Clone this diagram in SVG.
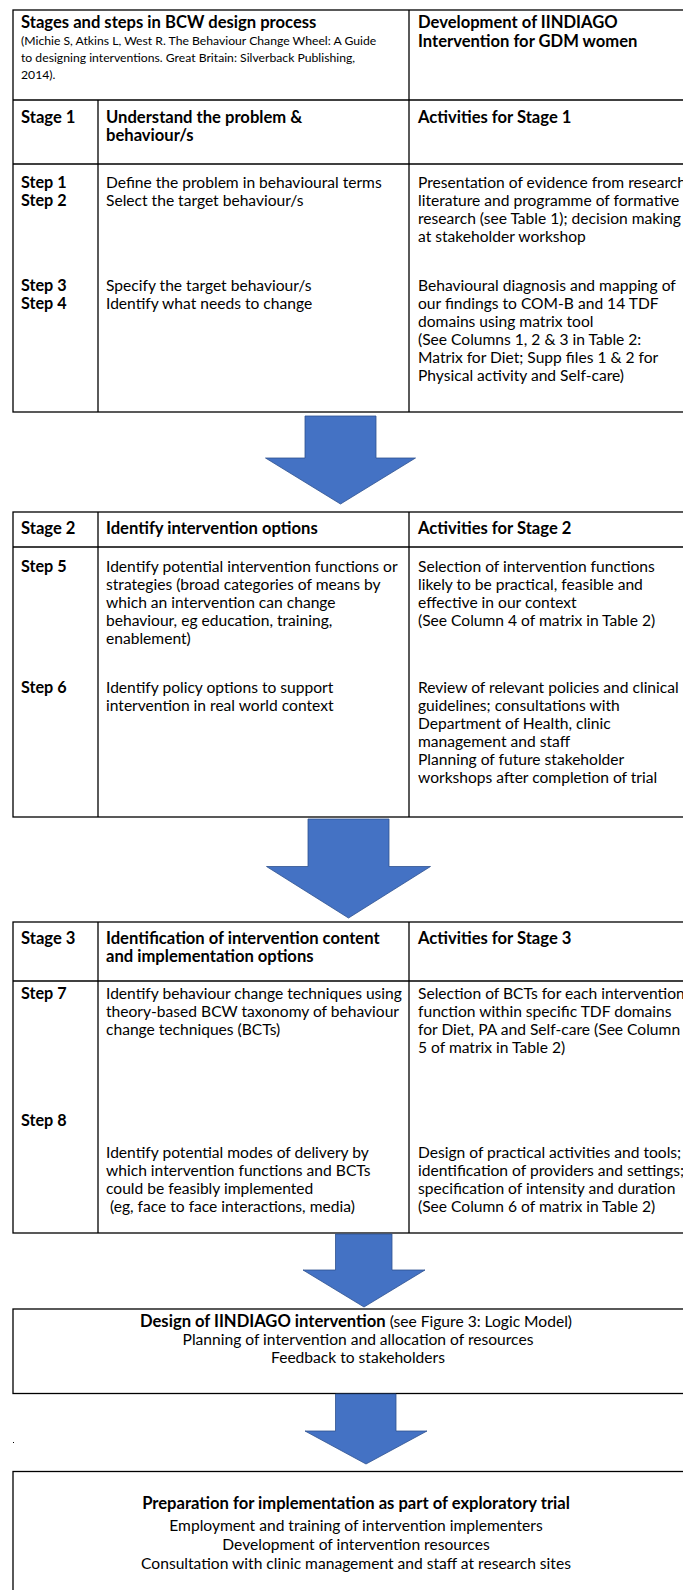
<svg xmlns="http://www.w3.org/2000/svg" width="683" height="1590" viewBox="0 0 683 1590">
<style>
.ln{stroke:#000;stroke-width:1.3;fill:none}
.t{font-family:Lato,"Liberation Sans",sans-serif;font-size:15.6px;fill:#000}
.b{font-family:Lato,"Liberation Sans",sans-serif;font-size:16.6px;font-weight:bold;fill:#000}
.st{font-family:Lato,"Liberation Sans",sans-serif;font-size:16.2px;font-weight:bold;fill:#000}
.s{font-family:Lato,"Liberation Sans",sans-serif;font-size:12.2px;fill:#000}
.c{text-anchor:middle}
.ar{fill:#4472C4;stroke:#2F528F;stroke-width:0.8}
</style>
<rect width="683" height="1590" fill="#fff"/>

<g id="table1">
<rect class="ln" x="13" y="10" width="700" height="402"/>
<line class="ln" x1="409" y1="10" x2="409" y2="412"/>
<line class="ln" x1="13" y1="100" x2="700" y2="100"/>
<line class="ln" x1="98" y1="100" x2="98" y2="412"/>
<line class="ln" x1="13" y1="164" x2="700" y2="164"/>
<text class="b" x="21" y="28">Stages and steps in BCW design process</text>
<text class="s" x="21" y="45">(Michie S, Atkins L, West R. The Behaviour Change Wheel: A Guide</text>
<text class="s" x="21" y="62">to designing interventions. Great Britain: Silverback Publishing,</text>
<text class="s" x="21" y="78.5">2014).</text>
<text class="b" x="418" y="28">Development of IINDIAGO</text>
<text class="b" x="418" y="46.5">Intervention for GDM women</text>
<text class="b" x="21" y="122.5">Stage 1</text>
<text class="b" x="106" y="122.5">Understand the problem &amp;</text>
<text class="b" x="106" y="140.5">behaviour/s</text>
<text class="b" x="418" y="122.5">Activities for Stage 1</text>
<text class="st" x="21" y="188">Step 1</text>
<text class="st" x="21" y="206">Step 2</text>
<text class="t" x="106" y="188">Define the problem in behavioural terms</text>
<text class="t" x="106" y="206">Select the target behaviour/s</text>
<text class="t" x="418" y="188">Presentation of evidence from research</text>
<text class="t" x="418" y="206">literature and programme of formative</text>
<text class="t" x="418" y="224">research (see Table 1); decision making</text>
<text class="t" x="418" y="242">at stakeholder workshop</text>
<text class="st" x="21" y="290.5">Step 3</text>
<text class="st" x="21" y="308.5">Step 4</text>
<text class="t" x="106" y="290.5">Specify the target behaviour/s</text>
<text class="t" x="106" y="308.5">Identify what needs to change</text>
<text class="t" x="418" y="290.5">Behavioural diagnosis and mapping of</text>
<text class="t" x="418" y="308.5">our findings to COM-B and 14 TDF</text>
<text class="t" x="418" y="326.5">domains using matrix tool</text>
<text class="t" x="418" y="344.5">(See Columns 1, 2 &amp; 3 in Table 2:</text>
<text class="t" x="418" y="362.5">Matrix for Diet; Supp files 1 &amp; 2 for</text>
<text class="t" x="418" y="380.5">Physical activity and Self-care)</text>
</g>

<g id="table2">
<rect class="ln" x="13" y="512" width="700" height="305"/>
<line class="ln" x1="98" y1="512" x2="98" y2="817"/>
<line class="ln" x1="409" y1="512" x2="409" y2="817"/>
<line class="ln" x1="13" y1="547" x2="700" y2="547"/>
<text class="b" x="21" y="533.5">Stage 2</text>
<text class="b" x="106" y="533.5">Identify intervention options</text>
<text class="b" x="418" y="533.5">Activities for Stage 2</text>
<text class="st" x="21" y="572">Step 5</text>
<text class="t" x="106" y="572">Identify potential intervention functions or</text>
<text class="t" x="106" y="590">strategies (broad categories of means by</text>
<text class="t" x="106" y="608">which an intervention can change</text>
<text class="t" x="106" y="626">behaviour, eg education, training,</text>
<text class="t" x="106" y="644">enablement)</text>
<text class="t" x="418" y="572">Selection of intervention functions</text>
<text class="t" x="418" y="590">likely to be practical, feasible and</text>
<text class="t" x="418" y="608">effective in our context</text>
<text class="t" x="418" y="626">(See Column 4 of matrix in Table 2)</text>
<text class="st" x="21" y="692.5">Step 6</text>
<text class="t" x="106" y="692.5">Identify policy options to support</text>
<text class="t" x="106" y="710.5">intervention in real world context</text>
<text class="t" x="418" y="692.5">Review of relevant policies and clinical</text>
<text class="t" x="418" y="710.5">guidelines; consultations with</text>
<text class="t" x="418" y="728.5">Department of Health, clinic</text>
<text class="t" x="418" y="746.5">management and staff</text>
<text class="t" x="418" y="764.5">Planning of future stakeholder</text>
<text class="t" x="418" y="782.5">workshops after completion of trial</text>
</g>

<g id="table3">
<rect class="ln" x="13" y="922" width="700" height="311"/>
<line class="ln" x1="98" y1="922" x2="98" y2="1233"/>
<line class="ln" x1="409" y1="922" x2="409" y2="1233"/>
<line class="ln" x1="13" y1="981" x2="700" y2="981"/>
<text class="b" x="21" y="943.5">Stage 3</text>
<text class="b" x="106" y="943.5">Identification of intervention content</text>
<text class="b" x="106" y="961.5">and implementation options</text>
<text class="b" x="418" y="943.5">Activities for Stage 3</text>
<text class="st" x="21" y="998.5">Step 7</text>
<text class="t" x="106" y="998.5">Identify behaviour change techniques using</text>
<text class="t" x="106" y="1016.5">theory-based BCW taxonomy of behaviour</text>
<text class="t" x="106" y="1034.5">change techniques (BCTs)</text>
<text class="t" x="418" y="998.5">Selection of BCTs for each intervention</text>
<text class="t" x="418" y="1016.5">function within specific TDF domains</text>
<text class="t" x="418" y="1034.5">for Diet, PA and Self-care (See Column</text>
<text class="t" x="418" y="1052.5">5 of matrix in Table 2)</text>
<text class="st" x="21" y="1125.5">Step 8</text>
<text class="t" x="106" y="1157.5">Identify potential modes of delivery by</text>
<text class="t" x="106" y="1175.5">which intervention functions and BCTs</text>
<text class="t" x="106" y="1193.5">could be feasibly implemented</text>
<text class="t" x="106" y="1211.5" xml:space="preserve"> (eg, face to face interactions, media)</text>
<text class="t" x="418" y="1157.5">Design of practical activities and tools;</text>
<text class="t" x="418" y="1175.5">identification of providers and settings;</text>
<text class="t" x="418" y="1193.5">specification of intensity and duration</text>
<text class="t" x="418" y="1211.5">(See Column 6 of matrix in Table 2)</text>
</g>

<g id="design">
<rect class="ln" x="13" y="1309" width="700" height="84.5"/>
<text class="t c" x="356" y="1326.5"><tspan style="font-weight:bold;font-size:16.6px">Design of IINDIAGO intervention</tspan> (see Figure 3: Logic Model)</text>
<text class="t c" x="358" y="1345">Planning of intervention and allocation of resources</text>
<text class="t c" x="358" y="1363">Feedback to stakeholders</text>
</g>

<g id="preparation">
<rect class="ln" x="13" y="1471.5" width="700" height="140"/>
<text class="b c" x="356" y="1508.5">Preparation for implementation as part of exploratory trial</text>
<text class="t c" x="356" y="1531">Employment and training of intervention implementers</text>
<text class="t c" x="356" y="1550">Development of intervention resources</text>
<text class="t c" x="356" y="1569">Consultation with clinic management and staff at research sites</text>
</g>

<rect x="13" y="1442" width="1" height="1" fill="#000"/>

<g id="connectors">
<path class="ar" d="M305,416 H376 V458 H415.5 L340.5,504 L265.5,458 H305 Z"/>
<path class="ar" d="M308,819 H389 V866.5 H430.5 L348.5,918 L266.5,866.5 H308 Z"/>
<path class="ar" d="M335.5,1234 H392 V1270 H425 L364,1307 L303,1270 H335.5 Z"/>
<path class="ar" d="M335.5,1394 H396 V1431 H427 L366,1464 L305,1431 H335.5 Z"/>
</g>
</svg>
